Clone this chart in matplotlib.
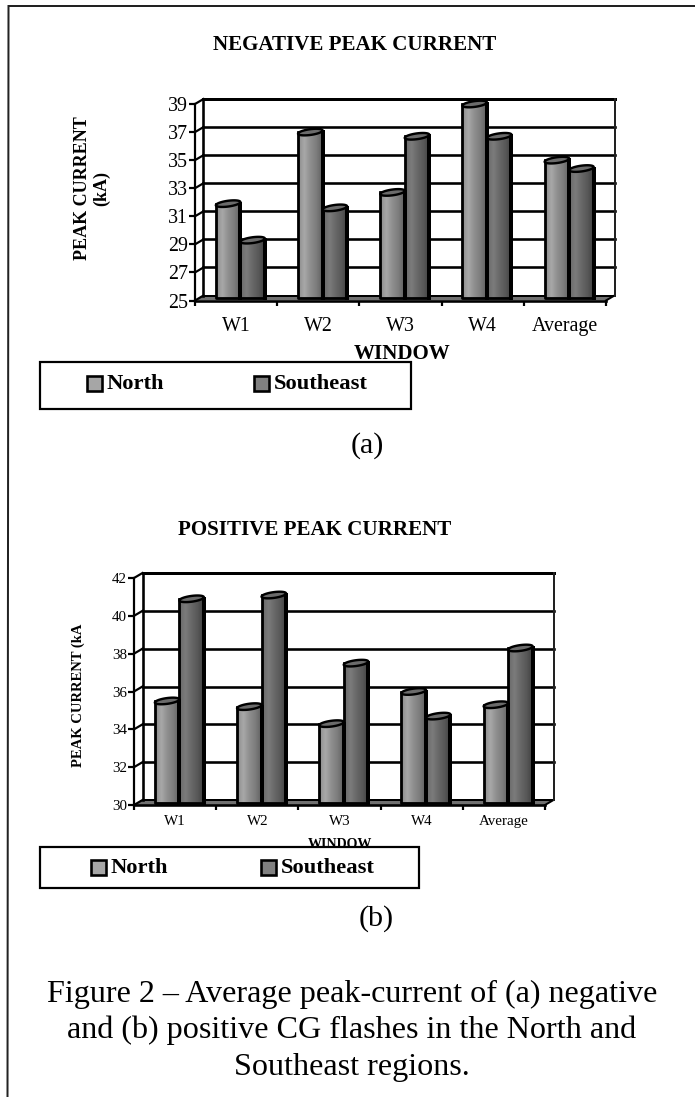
import numpy as np
from matplotlib import pyplot as plt
from matplotlib.patches import Polygon, Rectangle
from matplotlib.colors import LinearSegmentedColormap

W, H = 695, 1097
plt.rcParams['font.family'] = ['Liberation Serif', 'DejaVu Serif']

windows = ["W1", "W2", "W3", "W4", "Average"]
series = ["North", "Southeast"]

neg_north = [31.9, 37.0, 32.7, 39.0, 35.0]
neg_south = [29.3, 31.6, 36.7, 36.7, 34.4]
neg_ticks = [25, 27, 29, 31, 33, 35, 37, 39]

pos_north = [35.5, 35.2, 34.3, 36.0, 35.3]
pos_south = [40.9, 41.1, 37.5, 34.7, 38.3]
pos_ticks = [30, 32, 34, 36, 38, 40, 42]

north_cmap = LinearSegmentedColormap.from_list("n", ["#8c8c8c", "#a8a8a8", "#8e8e8e", "#7c7c7c", "#606060"])
south_cmap = LinearSegmentedColormap.from_list("s", ["#686868", "#7c7c7c", "#686868", "#585858", "#404040"])
grad = np.linspace(0, 1, 40).reshape(1, -1)


def px(v):
    # pixels to points
    return v * 0.72


def cylinder(ax, x0, val, width, base, cmap, dx, dy):
    x1 = x0 + width
    ax.imshow(grad, extent=[x0, x1, base + dy / 2, val], cmap=cmap, vmin=0, vmax=1,
              aspect='auto', zorder=4, interpolation='bilinear')
    # side and bottom outline, right side heavier
    ax.plot([x0, x0, x1, x1], [val, base + dy / 2, base + dy / 2, val], color='black',
            lw=px(2.8), zorder=5, solid_joinstyle='round')
    ax.plot([x1, x1], [val, base + dy / 2], color='black', lw=px(4), zorder=5)
    t = np.linspace(0, 2 * np.pi, 60)
    ex = x0 + width / 2 + width / 2 * np.cos(t)
    ey = val + dy * 0.58 * np.sin(t) + dy * 0.32 * np.cos(t)
    ax.add_patch(Polygon(np.column_stack([ex, ey]), closed=True, facecolor='#6b6b6b',
                         edgecolor='black', lw=px(2.4), zorder=6))


def chart(rect, north, south, ticks, tick_px, cat_px, title, title_y, ylabel, ylab_px,
          ylab_size, xlab_px, xlab_size, ticklab_pad):
    left, top, right, bottom = rect
    ax = fig.add_axes([left / W, 1 - bottom / H, (right - left) / W, (bottom - top) / H])
    ymin, ymax = ticks[0], ticks[-1]
    dx = 8.5 / cat_px
    dy = 5 * (ymax - ymin) / (bottom - top)
    n = len(windows)

    # floor and walls
    ax.add_patch(Polygon([[0, ymin], [n, ymin], [n + dx, ymin + dy], [dx, ymin + dy]],
                         closed=True, facecolor='#707070', edgecolor='none', zorder=1))
    for t in ticks:
        ax.plot([dx, n + dx], [t + dy, t + dy], color='black', lw=px(2.6 if t > ymin else 2), zorder=2)
        ax.plot([0, dx], [t, t + dy], color='black', lw=px(2.2), zorder=2)
    ax.plot([n, n + dx], [ymin, ymin + dy], color='black', lw=px(2), zorder=2)
    ax.plot([dx, n + dx], [ymax + dy, ymax + dy], color='black', lw=px(3), zorder=2)
    ax.plot([dx, dx], [ymin + dy, ymax + dy], color='black', lw=px(2.6), zorder=2)
    ax.plot([n + dx, n + dx], [ymin + dy, ymax + dy], color='#222222', lw=px(2), zorder=2)

    width = 24.5 / cat_px
    for i in range(n):
        c = i + 0.5 + dx / 2
        cylinder(ax, c - width, north[i], width, ymin, north_cmap, dx, dy)
        cylinder(ax, c, south[i], width, ymin, south_cmap, dx, dy)

    ax.set_xlim(0, n)
    ax.set_ylim(ymin, ymax)
    ax.patch.set_visible(False)
    for name in ['top', 'right']:
        ax.spines[name].set_visible(False)
    ax.spines['left'].set_linewidth(px(2.2))
    ax.spines['bottom'].set_linewidth(px(2.6))
    for sp in ax.spines.values():
        sp.set_zorder(3)
    for art in ax.lines + ax.patches + ax.images:
        art.set_clip_on(False)

    ax.set_yticks(ticks)
    ax.tick_params(axis='y', length=px(6), width=px(2.2), labelsize=px(tick_px), pad=px(1))
    ax.set_xticks(range(n + 1))
    ax.set_xticklabels([])
    ax.set_xticks(np.arange(n) + 0.5, windows, minor=True)
    ax.tick_params(axis='x', which='major', length=px(5), width=px(2.2))
    ax.tick_params(axis='x', which='minor', length=0, labelsize=px(tick_px), pad=ticklab_pad)

    ax.set_xlabel("WINDOW", fontweight='bold', fontsize=px(xlab_size), va='center')
    ax.xaxis.set_label_coords((xlab_px[0] - left) / (right - left), -(xlab_px[1] - bottom) / (bottom - top))
    ax.set_ylabel(ylabel, fontweight='bold', fontsize=px(ylab_size), va='center', ha='center',
                  multialignment='center', linespacing=1.15)
    ax.yaxis.set_label_coords((ylab_px[0] - left) / (right - left), 1 - (ylab_px[1] - top) / (bottom - top))
    fig.text(title[1] / W, 1 - title_y / H, title[0], fontweight='bold', fontsize=px(title[2]),
             ha='center', va='center')
    return ax


def legend_box(x0, y0, x1, y1, text_y, marks, size):
    # drawn over the WINDOW label, which the box cuts off in the original
    fig.add_artist(Rectangle((x0 / W, 1 - y1 / H), (x1 - x0) / W, (y1 - y0) / H, facecolor='white',
                             edgecolor='black', lw=px(2.2), transform=fig.transFigure, zorder=5))
    for name, colour, mx in zip(series, ['#a6a6a6', '#808080'], marks):
        fig.add_artist(Rectangle((mx / W, 1 - (text_y + 7.5) / H), 15 / W, 15 / H, facecolor=colour,
                                 edgecolor='black', lw=px(2.6), transform=fig.transFigure, zorder=6))
        fig.text((mx + 19.5) / W, 1 - (text_y + 1) / H, name, fontweight='bold', fontsize=px(size),
                 ha='left', va='center', zorder=6)


fig = plt.figure(figsize=(W / 100, H / 100), dpi=100)
fig.patch.set_facecolor('white')

# page frame, slightly skewed as in the scan
fig.add_artist(plt.Line2D([8.5 / W, 1], [1 - 6 / H, 1 - 6 / H], color='#222222', lw=px(2)))
fig.add_artist(plt.Line2D([8.5 / W, 7.5 / W], [1 - 6 / H, 0], color='#222222', lw=px(2)))

chart((195, 104, 606, 300.5), neg_north, neg_south, neg_ticks, 20, 82.2,
      ("NEGATIVE PEAK CURRENT", 355, 21), 45, "PEAK CURRENT\n(kA)", (92, 188), 18, (402, 354), 21, 12)
chart((134, 578, 545, 805), pos_north, pos_south, pos_ticks, 15, 82.2,
      ("POSITIVE PEAK CURRENT", 315, 21), 530, "PEAK CURRENT (kA", (78, 695), 14.6, (340, 844.5), 14, 7)

legend_box(40, 362, 411, 409, 383, (87, 254), 22.5)
legend_box(40, 847, 419, 888, 867, (91, 261), 22.5)

fig.text(367 / W, 1 - 446 / H, "(a)", fontsize=px(30), ha='center', va='center')
fig.text(376 / W, 1 - 919 / H, "(b)", fontsize=px(30), ha='center', va='center')

caption = ["Figure 2 \u2013 Average peak-current of (a) negative",
           "and (b) positive CG flashes in the North and",
           "Southeast regions."]
for line, y in zip(caption, [994, 1030, 1067]):
    fig.text(352 / W, 1 - y / H, line, fontsize=px(32.2), ha='center', va='center')

fig.savefig("out.png", dpi=100)
